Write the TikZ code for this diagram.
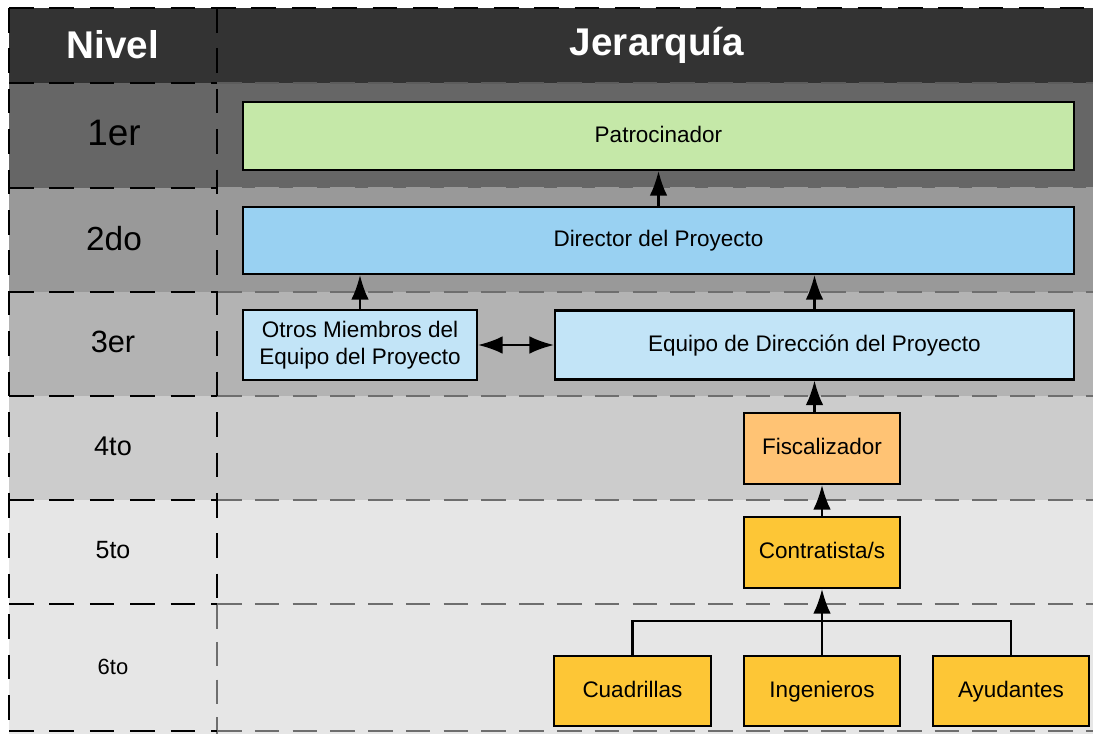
\documentclass[tikz,border=0pt]{standalone}
\usepackage{fontspec}
\setmainfont{Liberation Sans}
\usetikzlibrary{arrows.meta}
\definecolor{cabecera}{HTML}{333333}
\definecolor{fila1}{HTML}{666666}
\definecolor{fila2}{HTML}{999999}
\definecolor{fila3}{HTML}{B3B3B3}
\definecolor{fila4}{HTML}{CCCCCC}
\definecolor{fila5}{HTML}{E6E6E6}
\definecolor{rayagris}{HTML}{6E6E6E}
\definecolor{verde}{HTML}{C5E8A8}
\definecolor{azul}{HTML}{99D1F2}
\definecolor{celeste}{HTML}{C2E4F7}
\definecolor{naranja}{HTML}{FFC374}
\definecolor{amarillo}{HTML}{FDC636}
\begin{document}
\begin{tikzpicture}[x=0.02cm,y=-0.02cm,
    caja/.style={draw,line width=1.2pt,align=center,inner sep=2pt,
      font=\fontsize{12.8}{15.5}\selectfont},
    linea/.style={text height=9.5pt,text depth=2.5pt},
    corte/.style={line width=1.1pt,dash pattern=on 14pt off 9pt},
    banda/.style={draw=rayagris,line width=1.5pt,dash pattern=on 14pt off 7.5pt},
    punta/.tip={Latex[length=14pt,width=10pt]},
    flecha/.style={-punta,line width=1.2pt}]
      \useasboundingbox (0,0) rectangle (1093,734);
      % filas
      \fill[cabecera] (9,8) rectangle (1093,83);
      \fill[fila1] (9,83) rectangle (1093,188);
      \fill[fila2] (9,188) rectangle (1093,292);
      \fill[fila3] (9,292) rectangle (1093,396);
      \fill[fila4] (9,396) rectangle (1093,500);
      \fill[fila5] (9,500) rectangle (1093,734);
      \begin{scope}[banda]
        \draw[draw=fila1!80!cabecera] (217,83) -- (1093,83);
        \draw[draw=fila2] (217,188) -- (1093,188);
        \draw (217,292) -- (1093,292);
        \draw (217,396) -- (1093,396);
        \draw (217,500) -- (1093,500);
        \draw (217,604) -- (1093,604);
        \draw (217,731) -- (1093,731);
        \draw[line width=1.1pt] (217,604) -- (217,734);
      \end{scope}
      \begin{scope}[corte]
        \draw (9,8) -- (1093,8);
        \draw (9,8) -- (9,734);
        \draw (217,8) -- (217,604);
        \draw (9,83) -- (217,83);
        \draw (9,188) -- (217,188);
        \draw (9,292) -- (217,292);
        \draw (9,396) -- (217,396);
        \draw (9,500) -- (217,500);
        \draw (9,604) -- (217,604);
        \draw (9,731) -- (217,731);
      \end{scope}
      % cabecera y niveles
      \draw[font=\fontsize{22}{26}\selectfont\bfseries,text=white]
        (113,45) node (nivel){Nivel}
        (657,45) node (jerarquia){Jerarquía};
      \draw
        (114,133) node[font=\fontsize{21}{25}\selectfont] (n1){1er}
        (114,239) node[font=\fontsize{19}{23}\selectfont] (n2){2do}
        (113,342) node[font=\fontsize{17.5}{21}\selectfont] (n3){3er}
        (113,446) node[font=\fontsize{15.4}{19}\selectfont] (n4){4to}
        (113,550) node[font=\fontsize{14.2}{17}\selectfont] (n5){5to}
        (113,667) node[font=\fontsize{12.5}{15}\selectfont] (n6){6to};
      % cajas
      \draw
        (658.5,136) node[caja,linea,fill=verde,minimum width=16.62cm,minimum height=1.36cm] (patro){Patrocinador}
        (658.5,240.5) node[caja,linea,fill=azul,minimum width=16.62cm,minimum height=1.34cm] (director){Director del Proyecto}
        (360,345) node[caja,fill=celeste,minimum width=4.68cm,minimum height=1.4cm] (otros){Otros Miembros del\\Equipo del Proyecto}
        (814.5,345) node[caja,linea,fill=celeste,minimum width=10.38cm,minimum height=1.38cm] (equipo){Equipo de Dirección del Proyecto}
        (822,448.5) node[caja,linea,fill=naranja,minimum width=3.12cm,minimum height=1.42cm] (fisc){Fiscalizador}
        (822,552.5) node[caja,linea,fill=amarillo,minimum width=3.12cm,minimum height=1.42cm] (contr){Contratista/s}
        (632.5,691) node[caja,linea,fill=amarillo,minimum width=3.14cm,minimum height=1.4cm] (cuad){Cuadrillas}
        (822,691) node[caja,linea,fill=amarillo,minimum width=3.12cm,minimum height=1.4cm] (ing){Ingenieros}
        (1011,691) node[caja,linea,fill=amarillo,minimum width=3.12cm,minimum height=1.4cm] (ayud){Ayudantes};
      \coordinate (horq) at (822,621);
      % conexiones
      \begin{scope}[flecha]
        \draw (director.north) to (patro.south);
        \draw (otros.north) to (otros.north |- director.south);
        \draw (equipo.north) to (equipo.north |- director.south);
        \draw (equipo.south |- fisc.north) to (equipo.south);
        \draw (contr.north) to (fisc.south);
        \draw (ing.north) to (contr.south);
        \draw[punta-punta] (otros.east) to (otros.east -| equipo.west);
      \end{scope}
      \draw[line width=1.2pt] (cuad.north) |- (horq) -| (ayud.north);
    \end{tikzpicture}
\end{document}
